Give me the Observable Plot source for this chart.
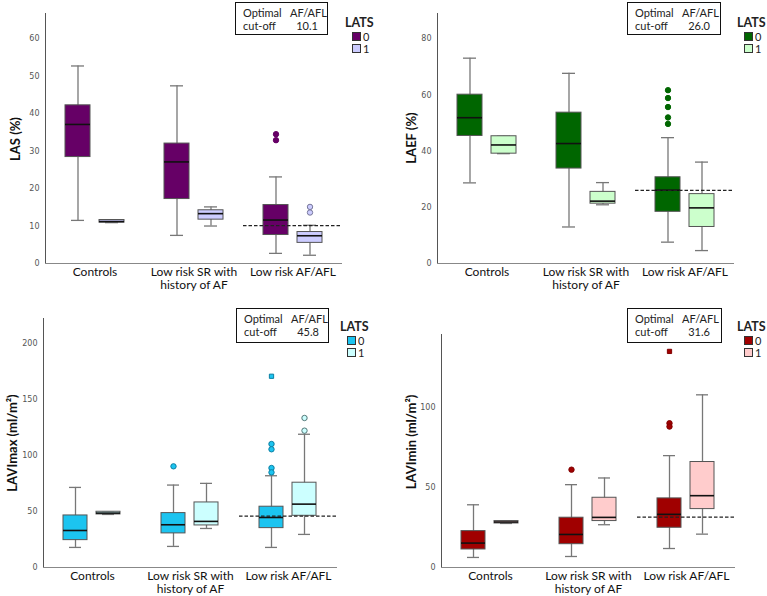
<!DOCTYPE html>
<html>
<head>
<meta charset="utf-8">
<script src="https://cdn.jsdelivr.net/npm/d3@7"></script>
<script src="https://cdn.jsdelivr.net/npm/@observablehq/plot@0.6"></script>
<style>
  body { margin: 0; background: #fff; }
  #chart { position: relative; width: 767px; height: 596px; font-family: Lato, "Open Sans", sans-serif; color: #111; }
  .panel { position: absolute; width: 383px; }
  .panel svg { display: block; }
  .ytitle { position: absolute; font-weight: bold; font-size: 13px; white-space: nowrap; transform: translate(-50%, -50%) rotate(-90deg); }
  .cutoff { position: absolute; box-sizing: border-box; border: 1.5px solid #111; font-size: 11px; color: #222;
            display: grid; grid-template-columns: 47px 34px; grid-auto-rows: 13px; padding: 3px 0 0 7px; }
  .cutoff span:nth-child(even) { text-align: center; }
  .legend { position: absolute; font-size: 11px; color: #222; }
  .legend .head { font-weight: bold; font-size: 12.5px; line-height: 14px; }
  .legend .row { display: flex; align-items: center; height: 12px; margin-left: 7px; }
  .legend .sw { width: 7px; height: 7px; border: 1px solid #333; margin-right: 2px; }
</style>
</head>
<body>
<div id="chart"></div>
<script>
// Patient groups along the x axis, and the LATS subgroups drawn side by side
const categories = ["Controls", "Low risk SR with history of AF", "Low risk AF/AFL"];
const categoryLabels = ["Controls", "Low risk SR with\nhistory of AF", "Low risk AF/AFL"];
const latsGroups = ["0", "1"];

// Box statistics, ordered Controls 0/1, SR 0/1, AF/AFL 0/1
const lasLow    = [11.5, 10.9,  7.5, 10.0,  2.7,  2.2];
const lasQ1     = [28.4, 10.9, 17.2, 11.7,  7.6,  5.5];
const lasMedian = [37.1, 11.2, 27.1, 13.3, 11.6,  7.4];
const lasQ3     = [42.2, 11.6, 32.0, 14.2, 15.6,  8.4];
const lasHigh   = [52.7, 11.6, 47.4, 15.1, 23.1, 10.2];
const lasOutliers = [["Low risk AF/AFL", "0", 34.5], ["Low risk AF/AFL", "0", 32.9],
                     ["Low risk AF/AFL", "1", 15.1], ["Low risk AF/AFL", "1", 13.6]];
const lasExtremes = [];
const lasCutoff = 10.1;

const laefLow    = [28.7, 39.1, 13.0, 20.9,  7.6,  4.6];
const laefQ1     = [45.4, 39.1, 33.8, 21.3, 18.4, 13.0];
const laefMedian = [51.9, 42.2, 42.7, 22.2, 26.1, 19.8];
const laefQ3     = [60.1, 45.3, 53.7, 25.5, 30.7, 24.7];
const laefHigh   = [73.1, 45.3, 67.7, 28.8, 44.8, 36.1];
const laefOutliers = [["Low risk AF/AFL", "0", 61.7], ["Low risk AF/AFL", "0", 58.9],
                      ["Low risk AF/AFL", "0", 55.7], ["Low risk AF/AFL", "0", 52.0],
                      ["Low risk AF/AFL", "0", 49.7]];
const laefExtremes = [];
const laefCutoff = 26.0;

const lavimaxLow    = [17.9, 47.3, 18.8, 34.8, 17.9,  29.5];
const lavimaxQ1     = [24.4, 47.3, 30.4, 37.5, 35.1,  46.1];
const lavimaxMedian = [33.0, 48.5, 38.1, 41.1, 44.6,  56.5];
const lavimaxQ3     = [46.4, 49.7, 48.5, 58.0, 54.2,  75.6];
const lavimaxHigh   = [71.4, 49.7, 73.5, 75.0, 81.8, 118.8];
const lavimaxOutliers = [["Low risk SR with history of AF", "0", 90.2],
                         ["Low risk AF/AFL", "0", 110.1], ["Low risk AF/AFL", "0", 105.4],
                         ["Low risk AF/AFL", "0", 88.7], ["Low risk AF/AFL", "0", 84.8],
                         ["Low risk AF/AFL", "1", 133.3], ["Low risk AF/AFL", "1", 122.0]];
const lavimaxExtremes = [["Low risk AF/AFL", "0", 170.5]];
const lavimaxCutoff = 45.8;

const laviminLow    = [ 6.3, 27.6,  6.9, 26.8, 11.9,  20.9];
const laviminQ1     = [11.3, 27.6, 14.6, 29.1, 24.9,  36.6];
const laviminMedian = [15.3, 28.5, 20.7, 31.4, 33.3,  45.0];
const laviminQ3     = [22.8, 29.1, 31.2, 43.7, 43.3,  66.1];
const laviminHigh   = [39.3, 29.1, 51.9, 56.1, 70.1, 108.2];
const laviminOutliers = [["Low risk SR with history of AF", "0", 61.3],
                         ["Low risk AF/AFL", "0", 90.4], ["Low risk AF/AFL", "0", 88.3]];
const laviminExtremes = [["Low risk AF/AFL", "0", 135.4]];
const laviminCutoff = 31.6;

// Combine the per-statistic arrays into one row per box
function boxRows(low, q1, median, q3, high) {
  const rows = [];
  categories.forEach((category, i) => {
    latsGroups.forEach((lats, j) => {
      const k = i * latsGroups.length + j;
      rows.push({category, lats, low: low[k], q1: q1[k], median: median[k], q3: q3[k], high: high[k]});
    });
  });
  return rows;
}
const pointRows = (list) => list.map(([category, lats, value]) => ({category, lats, value}));

const panels = [
  {left: 0, top: 0, height: 290, marginLeft: 44, marginRight: 40, marginTop: 13, marginBottom: 27,
   yMax: 66.7, ticks: [0, 10, 20, 30, 40, 50, 60], title: "LAS (%)", titleAt: [15, 139],
   colors: ["#660066", "#ccccff"], pointStroke: ["#660066", "#777799"],
   boxes: boxRows(lasLow, lasQ1, lasMedian, lasQ3, lasHigh),
   outliers: pointRows(lasOutliers), extremes: pointRows(lasExtremes), cutoff: lasCutoff,
   cutoffBox: [235, 2, 93, 33], legendAt: [345, 16]},
  {left: 384, top: 0, height: 290, marginLeft: 52, marginRight: 33, marginTop: 13, marginBottom: 27,
   yMax: 89, ticks: [0, 20, 40, 60, 80], title: "LAEF (%)", titleAt: [27, 138],
   colors: ["#006600", "#ccffcc"], pointStroke: ["#006600", "#669966"],
   boxes: boxRows(laefLow, laefQ1, laefMedian, laefQ3, laefHigh),
   outliers: pointRows(laefOutliers), extremes: pointRows(laefExtremes), cutoff: laefCutoff,
   cutoffBox: [243, 2, 94, 33], legendAt: [353, 16]},
  {left: 0, top: 290, height: 306, marginLeft: 43, marginRight: 46, marginTop: 28, marginBottom: 29,
   yMax: 222, ticks: [0, 50, 100, 150, 200], title: "LAVImax (ml/m²)", titleAt: [12, 153],
   colors: ["#1cc4f0", "#ccffff"], pointStroke: ["#0a7fa3", "#557777"],
   boxes: boxRows(lavimaxLow, lavimaxQ1, lavimaxMedian, lavimaxQ3, lavimaxHigh),
   outliers: pointRows(lavimaxOutliers), extremes: pointRows(lavimaxExtremes), cutoff: lavimaxCutoff,
   cutoffBox: [236, 18, 93, 35], legendAt: [340, 30]},
  {left: 384, top: 290, height: 306, marginLeft: 56, marginRight: 32, marginTop: 44, marginBottom: 29,
   yMax: 146, ticks: [0, 50, 100], title: "LAVImin (ml/m²)", titleAt: [27, 152],
   colors: ["#a00000", "#ffcccc"], pointStroke: ["#800000", "#996666"],
   boxes: boxRows(laviminLow, laviminQ1, laviminMedian, laviminQ3, laviminHigh),
   outliers: pointRows(laviminOutliers), extremes: pointRows(laviminExtremes), cutoff: laviminCutoff,
   cutoffBox: [243, 18, 95, 35], legendAt: [353, 30]}
];

const chart = document.getElementById("chart");

for (const p of panels) {
  const color = {domain: latsGroups, range: p.colors};
  const strokeFor = (d) => p.pointStroke[latsGroups.indexOf(d.lats)];

  const svg = Plot.plot({
    width: 383,
    height: p.height,
    marginLeft: p.marginLeft,
    marginRight: p.marginRight,
    marginTop: p.marginTop,
    marginBottom: p.marginBottom,
    style: {fontFamily: "DejaVu Sans, sans-serif", fontSize: "8px", color: "#555", background: "transparent", overflow: "visible"},
    fx: {domain: categories, padding: 0, axis: null},
    x: {domain: latsGroups, paddingInner: 0.27, paddingOuter: 0.59, axis: null},
    y: {domain: [0, p.yMax], ticks: p.ticks, tickSize: 0, tickPadding: 6, line: true, label: null},
    color,
    marks: [
      Plot.ruleY([0], {stroke: "#888"}),
      // whiskers and their caps
      Plot.ruleX(p.boxes, {fx: "category", x: "lats", y1: "low", y2: "high", stroke: "#777", strokeWidth: 1.3}),
      Plot.tickY(p.boxes, {fx: "category", x: "lats", y: "low", stroke: "#777", strokeWidth: 1.3, inset: 6}),
      Plot.tickY(p.boxes, {fx: "category", x: "lats", y: "high", stroke: "#777", strokeWidth: 1.3, inset: 6}),
      // interquartile boxes and medians
      Plot.barY(p.boxes, {fx: "category", x: "lats", y1: "q1", y2: "q3", fill: "lats", stroke: "#555", strokeWidth: 1}),
      Plot.tickY(p.boxes, {fx: "category", x: "lats", y: "median", stroke: "#111", strokeWidth: 1.6}),
      // optimal AF/AFL cut-off
      Plot.ruleY([p.cutoff], {fx: ["Low risk AF/AFL"], stroke: "#222", strokeWidth: 1.3, strokeDasharray: "3.5,2"}),
      // outliers (circles) and extremes (squares)
      Plot.dot(p.outliers, {fx: "category", x: "lats", y: "value", fill: "lats", stroke: strokeFor, strokeWidth: 1, r: 2.7}),
      Plot.dot(p.extremes, {fx: "category", x: "lats", y: "value", fill: "lats", stroke: strokeFor, strokeWidth: 1, r: 2.4, symbol: "square"}),
      // group names under the axis
      Plot.text(categories, {fx: (d) => d, text: (d, i) => categoryLabels[i], frameAnchor: "bottom", lineAnchor: "top",
                             dy: 3, lineHeight: 1.12, fontSize: 12, fill: "#111", fontFamily: "Lato, sans-serif"})
    ]
  });

  const div = document.createElement("div");
  div.className = "panel";
  div.style.left = p.left + "px";
  div.style.top = p.top + "px";
  div.style.height = p.height + "px";
  div.appendChild(svg);

  const title = document.createElement("div");
  title.className = "ytitle";
  title.style.left = p.titleAt[0] + "px";
  title.style.top = p.titleAt[1] + "px";
  title.textContent = p.title;
  div.appendChild(title);

  const [bx, by, bw, bh] = p.cutoffBox;
  const box = document.createElement("div");
  box.className = "cutoff";
  Object.assign(box.style, {left: bx + "px", top: by + "px", width: bw + "px", height: bh + "px"});
  for (const t of ["Optimal", "AF/AFL", "cut-off", p.cutoff.toFixed(1)]) {
    const s = document.createElement("span");
    s.textContent = t;
    box.appendChild(s);
  }
  div.appendChild(box);

  const legend = document.createElement("div");
  legend.className = "legend";
  legend.style.left = p.legendAt[0] + "px";
  legend.style.top = p.legendAt[1] + "px";
  const head = document.createElement("div");
  head.className = "head";
  head.textContent = "LATS";
  legend.appendChild(head);
  latsGroups.forEach((g, i) => {
    const row = document.createElement("div");
    row.className = "row";
    const sw = document.createElement("span");
    sw.className = "sw";
    sw.style.background = p.colors[i];
    row.appendChild(sw);
    row.appendChild(document.createTextNode(g));
    legend.appendChild(row);
  });
  div.appendChild(legend);

  chart.appendChild(div);
}
</script>
</body>
</html>
